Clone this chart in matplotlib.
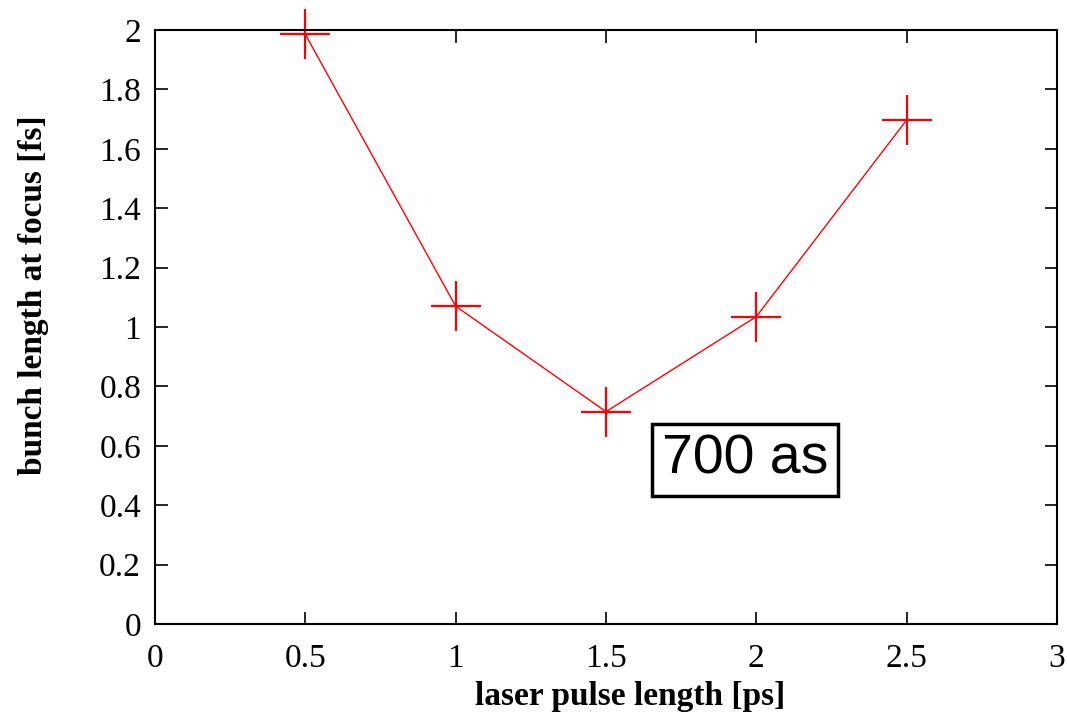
import matplotlib
matplotlib.use('Agg')
import matplotlib.pyplot as plt

# laser pulse length [ps] vs bunch length at focus [fs]
pulse = [0.5, 1.0, 1.5, 2.0, 2.5]
bunch = [1.985, 1.07, 0.715, 1.035, 1.697]

plt.rcParams['font.family'] = 'Liberation Serif'

fig = plt.figure(figsize=(10.67, 7.14), dpi=100)
ax = fig.add_axes([155/1067, 1 - 624/714, (1057-155)/1067, (624-30)/714])

ax.plot(pulse, bunch, c='red', lw=1, marker='+', ms=36, mew=1.6, clip_on=False)

ax.set_xlim(0, 3)
ax.set_ylim(0, 2)
ax.set_xticks([0, 0.5, 1, 1.5, 2, 2.5, 3])
ax.set_xticklabels(['0', '0.5', '1', '1.5', '2', '2.5', '3'])
ax.set_yticks([0, 0.2, 0.4, 0.6, 0.8, 1, 1.2, 1.4, 1.6, 1.8, 2])
ax.set_yticklabels(['0', '0.2', '0.4', '0.6', '0.8', '1', '1.2', '1.4',
                    '1.6', '1.8', '2'])
ax.tick_params(axis='both', direction='in', length=9, width=1.2,
               labelsize=24, top=True, right=True)
ax.tick_params(axis='x', pad=14)
ax.tick_params(axis='y', pad=10)
for s in ax.spines.values():
    s.set_linewidth(1.5)

ax.set_xlabel('laser pulse length [ps]', fontsize=24, fontweight='bold')
ax.xaxis.set_label_coords(0.527, -0.096)
ax.set_ylabel('bunch length at focus [fs]', fontsize=24, fontweight='bold')
ax.yaxis.set_label_coords(-0.118, 0.554)

ax.text(1.962, 0.553, '700 as', family='Liberation Sans', fontsize=40,
        ha='center', va='center',
        bbox=dict(boxstyle='square,pad=0.18', fc='white', ec='black', lw=2.5))

fig.savefig('out.png')
